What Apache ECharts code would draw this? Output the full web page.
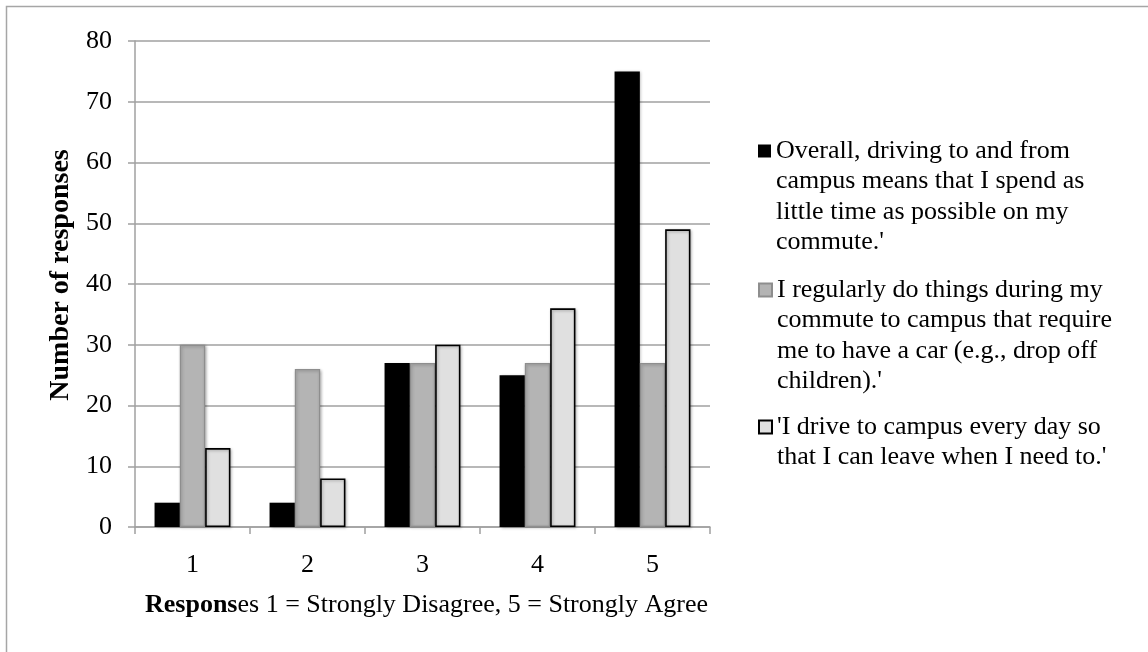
<!DOCTYPE html>
<html>
<head>
<meta charset="utf-8">
<script src="https://cdn.jsdelivr.net/npm/echarts@6/dist/echarts.min.js"></script>
<style>
  html, body { margin: 0; padding: 0; background: #fff; }
  #chart { width: 1148px; height: 652px; }
</style>
</head>
<body>
<div id="chart"></div>
<script>
// Likert responses (1 = strongly disagree, 5 = strongly agree)
const categories = ['1', '2', '3', '4', '5'];

const seriesNames = [
  "Overall, driving to and from campus means that I spend as little time as possible on my commute.'",
  "I regularly do things during my commute to campus that require me to have a car (e.g., drop off children).'",
  "'I drive to campus every day so that I can leave when I need to.'"
];

// Wrapped legend text, one entry per line
const legendLines = [
  ["Overall, driving to and from", "campus means that I spend as", "little time as possible on my", "commute.'"],
  ["I regularly do things during my", "commute to campus that require", "me to have a car (e.g., drop off", "children).'"],
  ["'I drive to campus every day so", "that I can leave when I need to.'"]
];

const timeValues = [4, 4, 27, 25, 75];
const errandValues = [30, 26, 27, 27, 27];
const leaveValues = [13, 8, 30, 36, 49];

const yTicks = { min: 0, max: 80, interval: 10 };

const FONT = '"Liberation Serif", "Times New Roman", serif';
const FS = 26;
const LINE_H = 30.5;

const chart = echarts.init(document.getElementById('chart'), null, { renderer: 'canvas' });

const barShadow = { shadowBlur: 3, shadowColor: 'rgba(0,0,0,0.28)', shadowOffsetX: 1, shadowOffsetY: 1 };

const seriesStyles = [
  { color: '#000000', borderColor: '#000000', borderWidth: 0 },
  { color: '#b4b4b4', borderColor: '#8e8e8e', borderWidth: 1.2 },
  { color: '#e0e0e0', borderColor: '#000000', borderWidth: 1.6 }
];

const seriesData = [timeValues, errandValues, leaveValues];

// Centre heights of each legend entry's first line; the text block is padded
// with leading blank lines so that first line sits beside the icon.
const legendCenters = [151, 290, 427];

const legends = legendLines.map((lines, i) => {
  const n = lines.length;
  const blockH = (2 * n - 1) * LINE_H;
  return {
    orient: 'vertical',
    left: 758,
    top: legendCenters[i] - blockH / 2,
    padding: 0,
    itemWidth: 13,
    itemHeight: 13,
    selectedMode: false,
    icon: 'rect',
    data: [seriesNames[i]],
    formatter: () => '\n'.repeat(n - 1) + lines.join('\n'),
    textStyle: { fontFamily: FONT, fontSize: FS, color: '#000', lineHeight: LINE_H }
  };
});

chart.setOption({
  backgroundColor: '#ffffff',
  animation: false,
  graphic: [{
    type: 'rect',
    shape: { x: 6.5, y: 6.5, width: 1200, height: 700 },
    style: { fill: 'none', stroke: '#a6a6a6', lineWidth: 1.5 },
    silent: true
  }],
  legend: legends,
  grid: { left: 135, right: 438, top: 41, bottom: 125, containLabel: false },
  xAxis: {
    type: 'category',
    data: categories,
    name: '{b|Respons}{n|es 1 = Strongly Disagree, 5 = Strongly Agree}',
    nameLocation: 'middle',
    nameGap: 65,
    nameTextStyle: {
      padding: [0, 0, 0, 8],
      rich: {
        b: { fontFamily: FONT, fontSize: FS, fontWeight: 'bold', color: '#000' },
        n: { fontFamily: FONT, fontSize: FS, color: '#000' }
      }
    },
    axisLine: { lineStyle: { color: '#a0a0a0', width: 1.5 } },
    axisTick: { show: true, length: 7, alignWithLabel: false, lineStyle: { color: '#a0a0a0', width: 1.5 } },
    axisLabel: { fontFamily: FONT, fontSize: FS, color: '#000', margin: 25 }
  },
  yAxis: {
    type: 'value',
    min: yTicks.min,
    max: yTicks.max,
    interval: yTicks.interval,
    name: 'Number of responses',
    nameLocation: 'middle',
    nameGap: 54,
    nameTextStyle: { fontFamily: FONT, fontSize: 28, fontWeight: 'bold', color: '#000', padding: [0, 0, 0, 18] },
    axisLine: { show: true, lineStyle: { color: '#a0a0a0', width: 1.5 } },
    axisTick: { show: true, length: 7, lineStyle: { color: '#a0a0a0', width: 1.5 } },
    axisLabel: { fontFamily: FONT, fontSize: FS, color: '#000', margin: 23 },
    splitLine: { show: true, lineStyle: { color: '#a0a0a0', width: 1.5 } }
  },
  series: seriesNames.map((name, i) => ({
    name,
    type: 'bar',
    data: seriesData[i],
    barGap: '0%',
    barCategoryGap: '34%',
    itemStyle: Object.assign({}, seriesStyles[i], barShadow),
    emphasis: { disabled: true }
  }))
});
</script>
</body>
</html>
